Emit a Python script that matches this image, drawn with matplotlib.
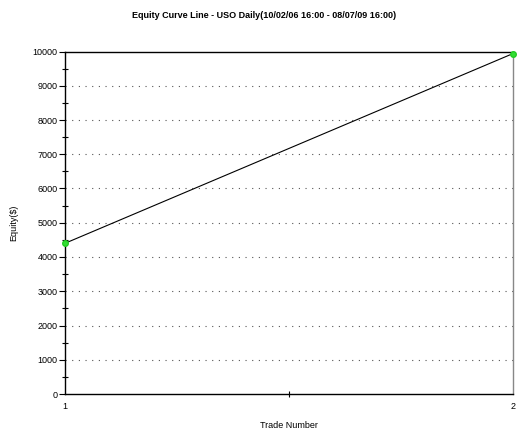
import matplotlib
matplotlib.use('Agg')
import matplotlib.pyplot as plt
from matplotlib.ticker import MultipleLocator

trade_number = [1, 2]
equity = [4400, 9940]

plt.rcParams['font.family'] = ['Liberation Sans', 'DejaVu Sans']

fig = plt.figure(figsize=(5.28, 4.30), dpi=100)
ax = fig.add_axes([65/528, 1-394/430, (513-65)/528, (394-51.5)/430])

ax.plot(trade_number, equity, color='black', lw=0.8, zorder=3)
ax.plot(trade_number, equity, 'o', color='#33dd33', ms=4, mec='#22cc22', zorder=4, clip_on=False)

ax.set_xlim(1, 2)
ax.set_ylim(0, 10000)
ax.yaxis.set_major_locator(MultipleLocator(1000))
ax.yaxis.set_minor_locator(MultipleLocator(500))
ax.set_xticks([1, 2])
ax.set_xticks([1.5], minor=True)

for v in range(1000, 10000, 1000):
    ax.axhline(v, color='#555555', lw=0.8, ls=(0, (1, 5)), zorder=1)

ax.tick_params(axis='y', which='major', direction='out', length=4, width=0.8, labelsize=6.5, pad=1.5)
ax.tick_params(axis='y', which='minor', direction='inout', length=5, width=0.8)
ax.tick_params(axis='x', which='major', length=0, labelsize=6.5, pad=6)
ax.tick_params(axis='x', which='minor', direction='inout', length=5, width=0.8)

for s in ['left', 'bottom', 'top']:
    ax.spines[s].set_color('black')
    ax.spines[s].set_linewidth(1.0)
ax.spines['right'].set_color('#888888')
ax.spines['right'].set_linewidth(1.0)

ax.set_ylabel('Equity($)', fontsize=6.5, labelpad=10)
ax.set_xlabel('Trade Number', fontsize=6.5, labelpad=7)
fig.text(0.5, 1-15/430, 'Equity Curve Line - USO Daily(10/02/06 16:00 - 08/07/09 16:00)',
         ha='center', va='center', fontsize=6.5, fontweight='bold')

fig.savefig('out.png', dpi=100)
